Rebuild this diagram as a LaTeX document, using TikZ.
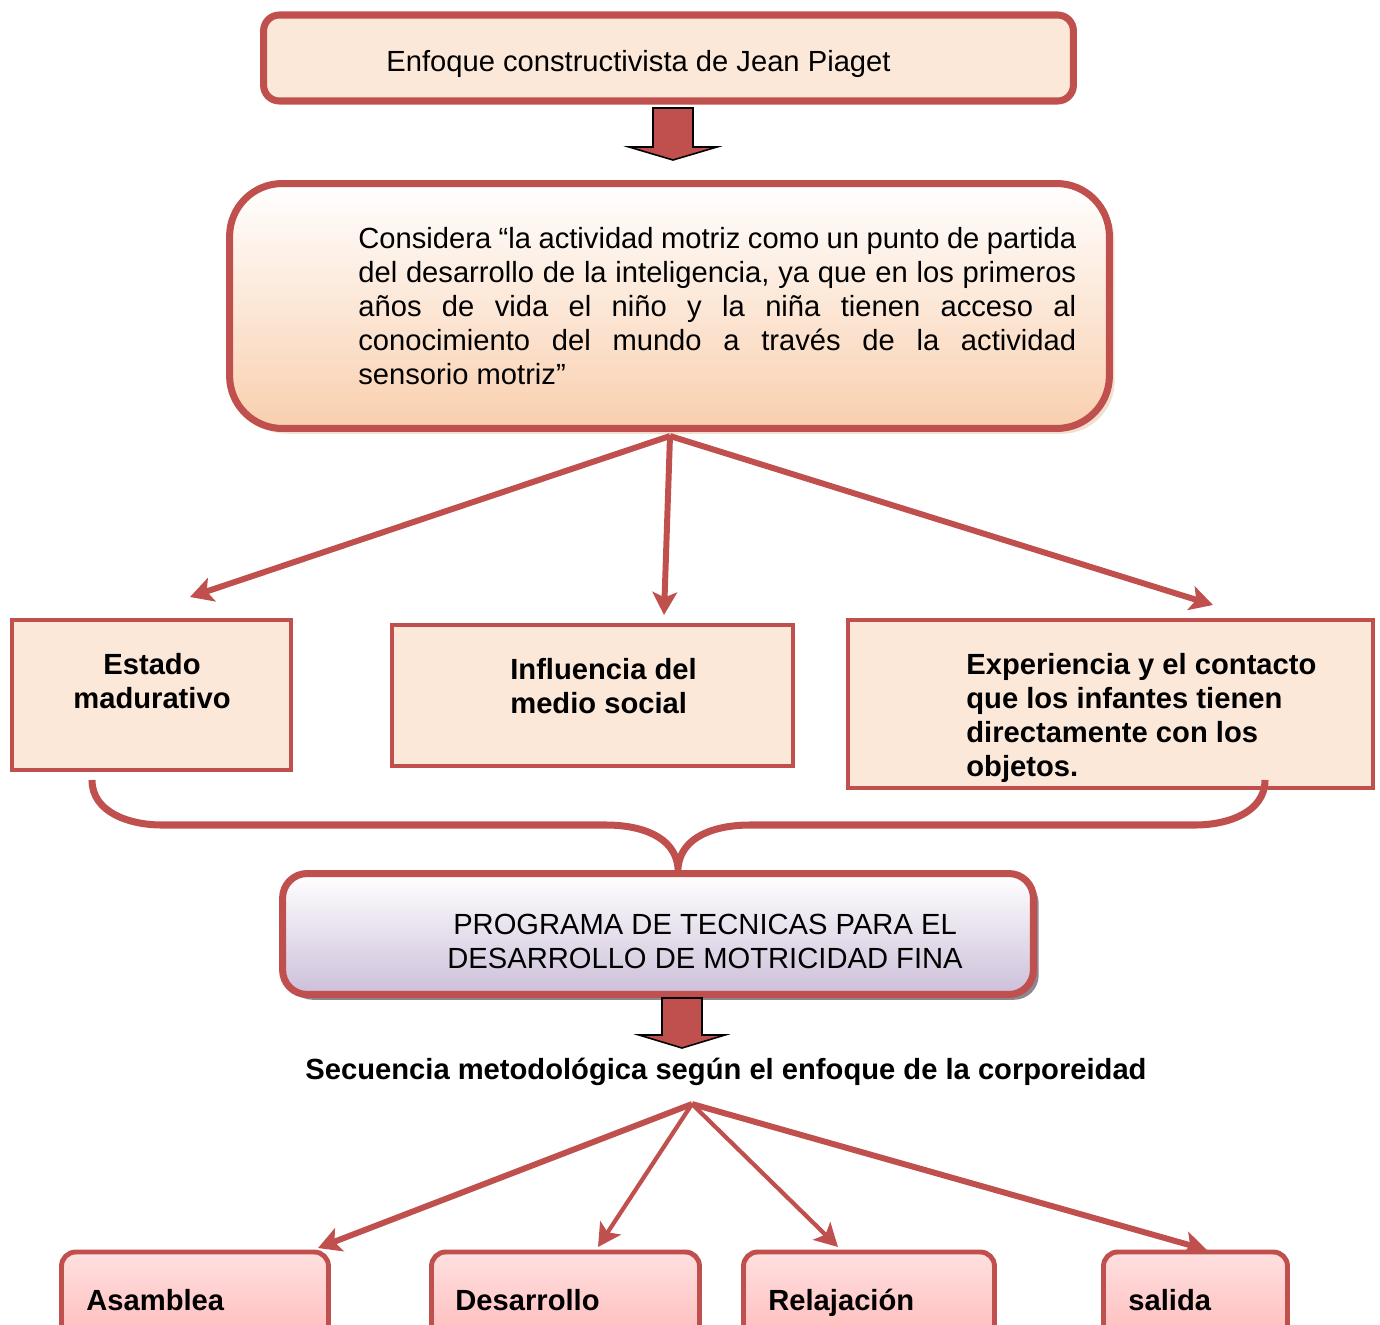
\documentclass[tikz,border=0pt]{standalone}
\usepackage{fontspec}
\setmainfont{Liberation Sans}
\usetikzlibrary{positioning, arrows.meta, shadows}

\definecolor{redline}{HTML}{C0504D}
\definecolor{peach}{HTML}{FCE8D9}
\definecolor{peachdark}{HTML}{F9CFAE}
\definecolor{lilac}{HTML}{CCBFD9}
\definecolor{pinklight}{HTML}{FFE0E0}
\definecolor{pinkdark}{HTML}{FFA3A3}

\tikzset{
  txt/.style={inner sep=0pt, font=\fontsize{16.6}{19.4}\selectfont},
  btxt/.style={txt, font=\fontsize{16.6}{19.4}\selectfont\bfseries},
  sqbox/.style={draw=redline, line width=2.4pt, fill=peach, minimum width=#1},
  fork/.style={draw=redline, line width=3.4pt, -{Stealth[length=13pt, width=14pt, inset=3pt]}},
  thinfork/.style={fork, line width=2.4pt},
  blockarr/.style={draw=black, line width=0.9pt, fill=redline},
  stepbox/.style={draw=redline, line width=2.8pt, rounded corners=8pt, top color=pinklight, bottom color=pinkdark}
}

\begin{document}
\begin{tikzpicture}[x=0.02cm, y=0.02cm]
\useasboundingbox (0,0) rectangle (1380,-1325);
\clip (0,0) rectangle (1380,-1325);

% cabecera
\node[draw=redline, line width=4pt, fill=peach, rounded corners=9pt, minimum width=16.2cm, minimum height=1.72cm] (enfoque) at (668.5,-58) {};
\node[txt, anchor=west] (enfoquetxt) at (386,-64) {Enfoque constructivista de Jean Piaget};
\draw[blockarr, shift={(673,-160)}] (-20,52) -- (20,52) -- (20,13) -- (44,13) -- (0,0) -- (-44,13) -- (-20,13) -- cycle;

% cita
\node[draw=redline, line width=4pt, rounded corners=30pt, top color=white, bottom color=peachdark,
      drop shadow={shadow xshift=3pt, shadow yshift=-3pt, fill=brown!40, opacity=0.6},
      minimum width=17.6cm, minimum height=4.9cm] (cita) at (669.5,-306) {};
\node[txt, anchor=north west, text width=14.36cm, align=justify] (citatxt) at (358,-227)
  {Considera “la actividad motriz como un punto de partida\linebreak del desarrollo de la inteligencia, ya que en los primeros\linebreak años de vida el niño y la niña tienen acceso al\linebreak conocimiento del mundo a través de la actividad\linebreak sensorio motriz”};

\coordinate (fork1) at (670,-436);
\coordinate (tipE) at (190,-597);
\coordinate (tipI) at (664,-615);
\coordinate (tipX) at (1213,-605);
\draw[fork] (fork1) -- (tipE);
\draw[fork] (fork1) -- (tipI);
\draw[fork] (fork1) -- (tipX);

% tres factores
\node[sqbox=5.58cm, minimum height=3cm] (estado) at (151.5,-695) {};
\node[sqbox=8.02cm, minimum height=2.82cm] (influencia) at (592.5,-695.5) {};
\node[sqbox=10.5cm, minimum height=3.36cm] (experiencia) at (1110.5,-704) {};
\node[btxt, anchor=north, align=center] (estadotxt) at (152,-653) {Estado\\madurativo};
\node[btxt, anchor=north west, align=left] (influenciatxt) at (510,-658) {Influencia del\\medio social};
\node[btxt, anchor=north west, align=left] (experienciatxt) at (966,-653) {Experiencia y el contacto\\que los infantes tienen\\directamente con los\\objetos.};

% llave
\draw[redline, line width=4pt] (92,-780) to[out=-90, in=180] (162,-825) -- (606,-825)
  to[out=0, in=95] (678,-868) to[out=85, in=180] (750,-825) -- (1195,-825) to[out=0, in=-90] (1265,-780);

% programa
\node[draw=redline, line width=4pt, rounded corners=14pt, top color=white, bottom color=lilac,
      drop shadow={shadow xshift=3pt, shadow yshift=-3pt, fill=black!45!lilac, opacity=0.8},
      minimum width=15.02cm, minimum height=2.42cm] (programa) at (658,-934) {};
\node[txt, align=center] (programatxt) at (705,-941) {PROGRAMA DE TECNICAS PARA EL\\DESARROLLO DE MOTRICIDAD FINA};
\draw[blockarr, shift={(682,-1048)}] (-20,50) -- (20,50) -- (20,13) -- (43,13) -- (0,0) -- (-43,13) -- (-20,13) -- cycle;

\node[btxt] (secuencia) at (726,-1072) {Secuencia metodológica según el enfoque de la corporeidad};

\coordinate (fork2) at (692,-1104);
\coordinate (tipA) at (318,-1248);
\coordinate (tipD) at (598,-1247);
\coordinate (tipR) at (838,-1247);
\coordinate (tipS) at (1207,-1250);
\draw[fork] (fork2) -- (tipA);
\draw[thinfork] (fork2) -- (tipD);
\draw[thinfork] (fork2) -- (tipR);
\draw[fork] (fork2) -- (tipS);

% secuencia
\node[stepbox, minimum width=5.34cm, minimum height=3cm] (asamblea) at (195,-1327) {};
\node[stepbox, minimum width=5.36cm, minimum height=3cm] (desarrollo) at (565.5,-1327) {};
\node[stepbox, minimum width=5.02cm, minimum height=3cm] (relajacion) at (869,-1327) {};
\node[stepbox, minimum width=3.68cm, minimum height=3cm] (salida) at (1195.5,-1327) {};
\node[btxt, anchor=base west] (asambleatxt) at (86,-1310) {Asamblea};
\node[btxt, anchor=base west] (desarrollotxt) at (455,-1310) {Desarrollo};
\node[btxt, anchor=base west] (relajaciontxt) at (768,-1310) {Relajación};
\node[btxt, anchor=base west] (salidatxt) at (1128,-1310) {salida};
\end{tikzpicture}
\end{document}
